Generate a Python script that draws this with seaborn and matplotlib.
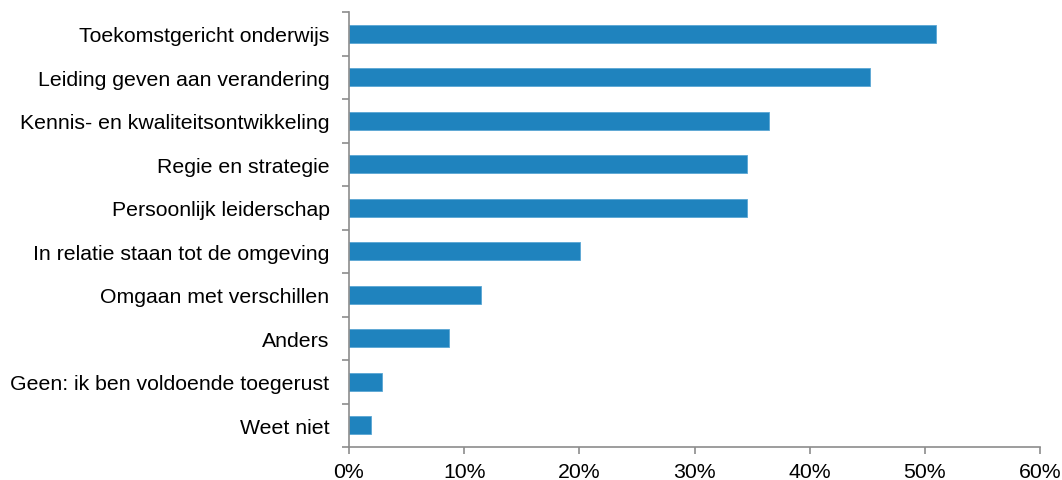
import matplotlib
matplotlib.use("Agg")
import matplotlib.pyplot as plt
from matplotlib.ticker import FixedLocator, PercentFormatter
import seaborn as sns
import pandas as pd

categories = [
    "Toekomstgericht onderwijs",
    "Leiding geven aan verandering",
    "Kennis- en kwaliteitsontwikkeling",
    "Regie en strategie",
    "Persoonlijk leiderschap",
    "In relatie staan tot de omgeving",
    "Omgaan met verschillen",
    "Anders",
    "Geen: ik ben voldoende toegerust",
    "Weet niet",
]
percentages = [51.0, 45.2, 36.5, 34.6, 34.6, 20.1, 11.5, 8.7, 2.9, 1.9]
x_ticks = [0, 10, 20, 30, 40, 50, 60]

df = pd.DataFrame({"categorie": categories, "percentage": percentages})

sns.set_theme(style="white")
plt.rcParams["font.family"] = ["Liberation Sans", "DejaVu Sans"]

fig = plt.figure(figsize=(10.62, 4.81), dpi=100)
ax = fig.add_axes([349 / 1062, 1 - 448 / 481, (1040 - 349) / 1062, (448 - 13) / 481])

sns.barplot(data=df, x="percentage", y="categorie", orient="h", color="#1f83be",
            saturation=1, width=0.41, edgecolor="#5aa6d4", linewidth=0.6, ax=ax)

axis_grey = "#8c8c8c"
ax.set_xlim(0, 60)
ax.set_ylim(len(categories) - 0.5, -0.5)
ax.set_xticks(x_ticks)
ax.xaxis.set_major_formatter(PercentFormatter(decimals=0))
ax.set_xlabel("")
ax.set_ylabel("")

# category labels without ticks; tick marks sit on the boundaries between bars
ax.tick_params(axis="y", which="major", length=0, pad=14, labelsize=15.3, labelcolor="black")
ax.yaxis.set_minor_locator(FixedLocator([i - 0.5 for i in range(len(categories) + 1)]))
ax.tick_params(axis="y", which="minor", left=True, length=5, width=1.2, color=axis_grey)
ax.tick_params(axis="x", which="major", bottom=True, length=5, width=1.2, color=axis_grey,
               pad=6, labelsize=15.3, labelcolor="black")

for side in ("top", "right"):
    ax.spines[side].set_visible(False)
for side in ("left", "bottom"):
    ax.spines[side].set_color(axis_grey)
    ax.spines[side].set_linewidth(1.2)

fig.savefig("out.png", dpi=100)
